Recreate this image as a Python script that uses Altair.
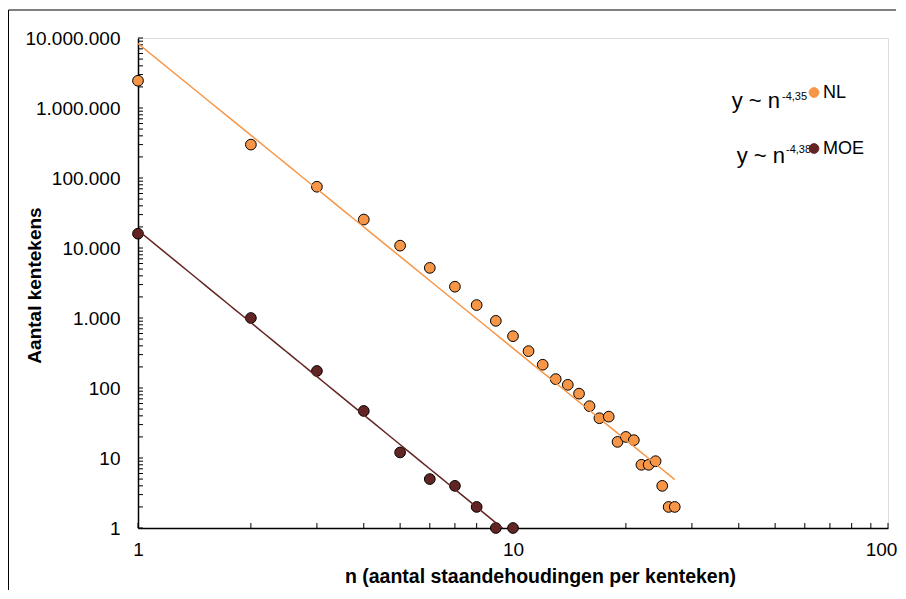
import altair as alt
import pandas as pd

# ---------------- data ----------------
n_nl = list(range(1, 28))
count_nl = [2450000, 300000, 75000, 25500, 10800, 5200, 2800, 1530, 910, 550,
            336, 215, 134, 111, 83, 55, 37, 39, 17, 20,
            18, 8, 8, 9, 4, 2, 2]
n_moe = list(range(1, 11))
count_moe = [16000, 1000, 175, 47, 12, 5, 4, 2, 1, 1]

series_names = ["NL", "MOE"]
series_colors = ["#F79646", "#632523"]
fit_text = ["y ~ n", "y ~ n"]
fit_exponents = ["-4,35", "-4,38"]

y_major = [1, 10, 100, 1000, 10000, 100000, 1000000, 10000000]
x_major = [1, 10, 100]
y_minor = [k * 10 ** d for d in range(7) for k in range(1, 10)] + [10000000]
x_minor = [k * 10 ** d for d in range(2) for k in range(1, 10)] + [100]

df = pd.DataFrame({
    "n": n_nl + n_moe,
    "count": count_nl + count_moe,
    "series": ["NL"] * len(n_nl) + ["MOE"] * len(n_moe),
})

FONT = "Liberation Sans"
W, H = 750, 490
PAD_B = 62

xs = alt.Scale(type="log", domain=[1, 100], nice=False)
ys = alt.Scale(type="log", domain=[1, 10000000], nice=False)
cs = alt.Scale(domain=series_names, range=series_colors)

x_axis = alt.Axis(
    values=x_major, labelExpr="format(datum.value, 'd')", ticks=False, tickSize=0,
    labelPadding=12, labelFontSize=19, labelFont=FONT, labelColor="black",
    labelFlush=False, labelOverlap=False, grid=False,
    labelOffset={"condition": {"test": "datum.value == 100", "value": -7}, "value": 0},
    domainColor="black", domainWidth=1.5,
    title="n (aantal staandehoudingen per kenteken)", titleFont=FONT,
    titleFontSize=19.5, titleFontWeight="bold", titleColor="black",
    titleX=402, titleY=54, titleAlign="center", titleBaseline="alphabetic",
)
y_axis = alt.Axis(
    values=y_major,
    labelExpr="replace(replace(replace(format(datum.value, ','), ',', '.'), ',', '.'), ',', '.')",
    ticks=False, tickSize=0, labelPadding=18, labelFontSize=19, labelFont=FONT,
    labelColor="black", labelFlush=False, labelOverlap=False, grid=False,
    domainColor="black", domainWidth=1.5,
    title="Aantal kentekens", titleFont=FONT, titleFontSize=19,
    titleFontWeight="bold", titleColor="black", titleAngle=-90,
    titleX=-98, titleY=247, titleAlign="center", titleBaseline="alphabetic",
)

legend = alt.Legend(
    orient="none", legendX=667, legendY=45.5, title=None, padding=0,
    symbolType="circle", symbolSize=95, symbolStrokeColor="black",
    symbolStrokeWidth=1, symbolOpacity=1, labelFontSize=18, labelFont=FONT,
    labelColor="black", labelOffset=0, rowPadding=38,
)

fits = alt.Chart(df).transform_regression(
    "n", "count", method="pow", groupby=["series"]
).mark_line(strokeWidth=1.5, clip=True).encode(
    x=alt.X("n:Q", scale=xs, axis=x_axis),
    y=alt.Y("count:Q", scale=ys, axis=y_axis),
    color=alt.Color("series:N", scale=cs, legend=None),
)

points = alt.Chart(df).mark_circle(
    size=115, opacity=1, stroke="black", strokeWidth=1
).encode(
    x=alt.X("n:Q", scale=xs, axis=x_axis),
    y=alt.Y("count:Q", scale=ys, axis=y_axis),
    color=alt.Color("series:N", scale=cs, legend=legend),
)

ytick = alt.Chart(pd.DataFrame({"count": y_minor})).mark_rule(
    color="black", strokeWidth=1
).encode(y=alt.Y("count:Q", scale=ys), x=alt.value(0), x2=alt.value(5))

xtick = alt.Chart(pd.DataFrame({"n": x_minor})).mark_rule(
    color="black", strokeWidth=1
).encode(x=alt.X("n:Q", scale=xs), y=alt.value(H), y2=alt.value(H - 5))

one = alt.Data(values=[{"a": 1}])
border_left = alt.Chart(one).mark_rule(color="black", strokeWidth=1).encode(
    x=alt.value(-129.5), y=alt.value(-28), y2=alt.value(H + PAD_B)
)
border_top = alt.Chart(one).mark_rule(color="black", strokeWidth=1).encode(
    x=alt.value(-129.5), x2=alt.value(W + 8), y=alt.value(-28)
)


def eq_text(txt, size, align, xpos, ypos):
    return alt.Chart(alt.Data(values=[{"t": txt}])).mark_text(
        align=align, baseline="alphabetic", fontSize=size, font=FONT, color="black"
    ).encode(text="t:N", x=alt.value(xpos), y=alt.value(ypos))


eq_nl = eq_text(fit_text[0], 22, "right", 642, 70)
sup_nl = eq_text(fit_exponents[0], 11, "left", 644, 62.4)
eq_moe = eq_text(fit_text[1], 22, "right", 647, 124.7)
sup_moe = eq_text(fit_exponents[1], 11, "left", 648, 115.2)

chart = alt.layer(
    border_left, border_top, ytick, xtick, points, fits,
    eq_nl, sup_nl, eq_moe, sup_moe,
).properties(
    width=W, height=H,
    padding={"left": 130, "top": 30, "right": 10, "bottom": PAD_B},
    autosize=alt.AutoSizeParams(type="none"),
).configure_view(
    stroke="#7a7a7a", strokeWidth=1.5
).configure(background="white")

chart.save("out.html", embed_options={"renderer": "svg", "actions": False})
